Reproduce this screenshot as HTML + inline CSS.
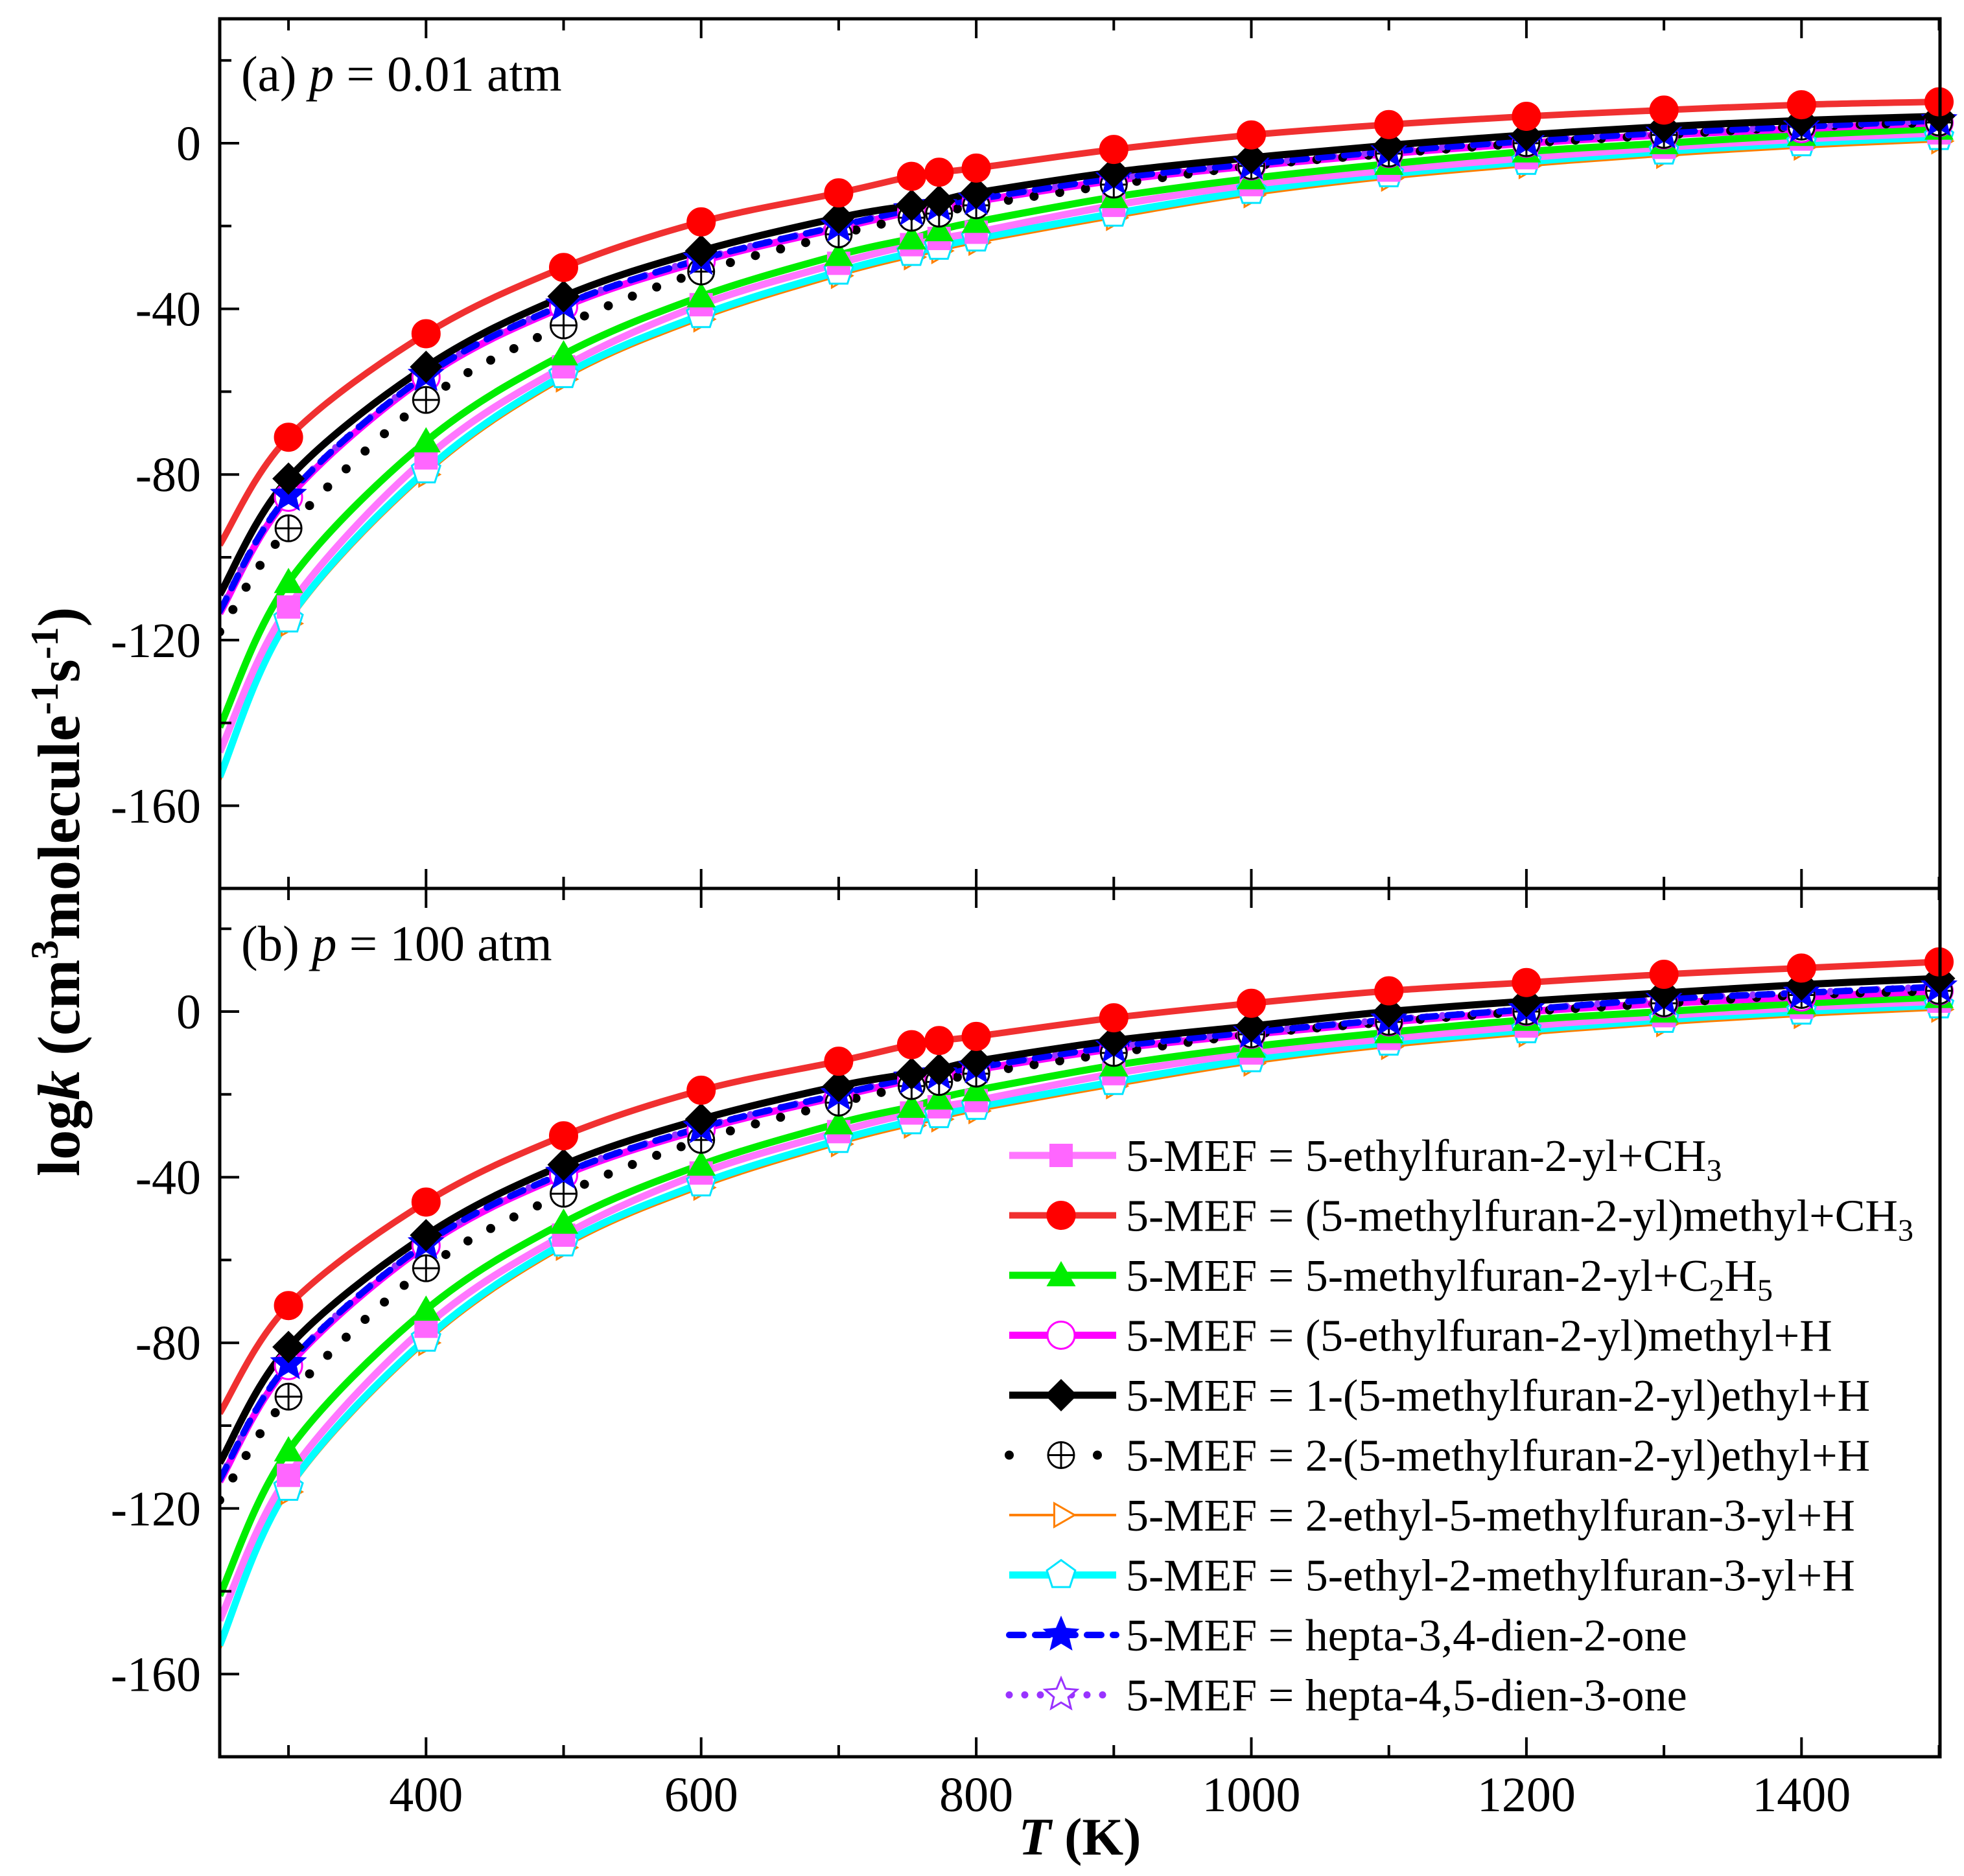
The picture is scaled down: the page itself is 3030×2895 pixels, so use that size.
<!DOCTYPE html>
<html><head><meta charset="utf-8"><style>
html,body{margin:0;padding:0;background:#fff}
svg{display:block}
text{font-family:"Liberation Serif",serif}
</style></head><body>
<svg id="chart" width="3030" height="2895" viewBox="0 0 3030 2895" xmlns="http://www.w3.org/2000/svg">
<defs>
<clipPath id="clipA"><rect x="339" y="29" width="2654" height="1342"/></clipPath>
<clipPath id="clipB"><rect x="339" y="1371" width="2654" height="1340"/></clipPath>
</defs>
<g id="plots"></g>
<g id="axes"></g>
<text x="372" y="140" font-size="77">(a) <tspan font-style="italic">p</tspan> = 0.01 atm</text>
<text x="372" y="1482" font-size="77">(b) <tspan font-style="italic">p</tspan> = 100 atm</text>
<text transform="translate(122,1376) rotate(-90)" text-anchor="middle" font-size="92" font-weight="bold">log<tspan font-style="italic">k</tspan> (cm<tspan baseline-shift="super" font-size="60">3</tspan>molecule<tspan baseline-shift="super" font-size="60">-1</tspan>s<tspan baseline-shift="super" font-size="60">-1</tspan>)</text>
<text x="1666" y="2862" text-anchor="middle" font-size="82" font-weight="bold"><tspan font-style="italic">T</tspan> (K)</text>
<g id="legend"></g>
</svg>
<script>
const temps=[250,300,400,500,600,700,753,773,800,900,1000,1100,1200,1300,1400,1500];
const xTicks=[400,600,800,1000,1200,1400];
const yTicks=[0,-40,-80,-120,-160];
// panel (a) p = 0.01 atm
const aPink  =[-147,-112,-76,-54,-39,-29,-24.5,-23,-21.5,-15,-10,-6.5,-3.5,-1,1,2.5];
const aRed   =[-97,-71,-46,-30,-19,-12,-8,-7,-6,-1.5,2,4.5,6.5,8,9.3,10];
const aGreen =[-141,-106,-72,-51,-37,-27,-23,-21,-19,-13,-8.5,-5,-2,0,2,3.5];
const aMag   =[-113.5,-85.5,-56.5,-39.5,-28.5,-20.5,-16.5,-15.5,-14,-9,-5.5,-2.5,0,2,3.5,5];
const aBlack =[-109,-81,-54,-37,-26,-18,-15,-14,-12,-7,-3.5,-0.5,2,4,5.5,6.5];
const aDot   =[-118,-93,-62,-44,-31,-22,-18,-17,-15,-10,-5.5,-2.5,0,2,4,5];
const aOrange=[-154,-116,-80,-57,-42.5,-32,-27.5,-26,-24,-18,-12.5,-8.5,-5.5,-3,-1,0.5];
const aCyan  =[-153,-115,-79,-56,-41.5,-31,-26.5,-25,-23,-17,-11.5,-7.5,-4.5,-2,0,1.5];
const aBlue  =[-113,-85,-56,-39,-28,-20,-16,-15,-13.5,-8.5,-5,-2,0.5,2.5,4,5.5];
const aPurple=[-113,-85,-56,-39,-28,-20,-16,-15,-13.5,-8.5,-5,-2,0.5,2.5,4,5.5];
// panel (b) p = 100 atm
const bPink  =[-147,-112,-76,-54,-39,-29,-24.5,-23,-21.5,-15,-10,-6.5,-3.5,-1,1,2.5];
const bRed   =[-97,-71,-46,-30,-19,-12,-8,-7,-6,-1.5,2,5,7,9,10.5,12];
const bGreen =[-141,-106,-72,-51,-37,-27,-23,-21,-19,-13,-8.5,-5,-2,0,2,3.5];
const bMag   =[-113.5,-85.5,-56.5,-39.5,-28.5,-20.5,-16.5,-15.5,-14,-9,-5.5,-2.5,0,2,3.5,5];
const bBlack =[-109,-81,-54,-37,-26,-18,-15,-14,-12,-7,-3.5,0,2.5,4.5,6.5,8];
const bDot   =[-118,-93,-62,-44,-31,-22,-18,-17,-15,-10,-5.5,-2.5,0,2,4,5];
const bOrange=[-154,-116,-80,-57,-42.5,-32,-27.5,-26,-24,-18,-12.5,-8.5,-5.5,-3,-1,0.5];
const bCyan  =[-153,-115,-79,-56,-41.5,-31,-26.5,-25,-23,-17,-11.5,-7.5,-4.5,-2,0,1.5];
const bBlue  =[-113,-85,-56,-39,-28,-20,-16,-15,-13.5,-8.5,-5,-2,0.5,3,4.5,6];
const bPurple=[-113,-85,-56,-39,-28,-20,-16,-15,-13.5,-8.5,-5,-2,0.5,3,4.5,6];

const NS="http://www.w3.org/2000/svg";
const X0=339,XS=2.122,YS=6.39;
function xPos(t){return X0+(t-250)*XS;}
function yPos(v,zero){return zero-v*YS;}
function mk(tag,attrs,parent){const e=document.createElementNS(NS,tag);for(const k in attrs)e.setAttribute(k,attrs[k]);parent.appendChild(e);return e;}

const styles={
 pink:{c:'#ff77ff',w:11,dash:null,m:'square',fill:'#ff66ff',stroke:'#ff66ff'},
 red:{c:'#f03030',w:10,dash:null,m:'circle',fill:'#ff0000',stroke:'#ff0000'},
 green:{c:'#00ee00',w:11,dash:null,m:'triangle',fill:'#00ee00',stroke:'#00ee00'},
 mag:{c:'#ff00ff',w:11,dash:null,m:'circle',fill:'#ffffff',stroke:'#ff00ff'},
 black:{c:'#000000',w:11,dash:null,m:'diamond',fill:'#000000',stroke:'#000000'},
 dot:{c:'#000000',w:14,dash:'0 40',m:'oplus',fill:'#ffffff',stroke:'#000000'},
 orange:{c:'#ff8000',w:4,dash:null,m:'rtri',fill:'#ffffff',stroke:'#ff8000'},
 cyan:{c:'#00ffff',w:11,dash:null,m:'pentagon',fill:'#ffffff',stroke:'#00e5ff'},
 blue:{c:'#0000ff',w:10,dash:'22 18',m:'star',fill:'#0000ff',stroke:'#0000ff'},
 purple:{c:'#9933ff',w:11,dash:'0 24',m:'star',fill:'#ffffff',stroke:'#9933ff'}
};

function pathD(pts){
 let d='M'+pts[0][0]+','+pts[0][1];
 for(let i=0;i<pts.length-1;i++){
  const p0=pts[Math.max(0,i-1)],p1=pts[i],p2=pts[i+1],p3=pts[Math.min(pts.length-1,i+2)];
  const c1x=p1[0]+(p2[0]-p0[0])/6,c1y=p1[1]+(p2[1]-p0[1])/6;
  const c2x=p2[0]-(p3[0]-p1[0])/6,c2y=p2[1]-(p3[1]-p1[1])/6;
  d+=' C'+c1x.toFixed(1)+','+c1y.toFixed(1)+' '+c2x.toFixed(1)+','+c2y.toFixed(1)+' '+p2[0].toFixed(1)+','+p2[1].toFixed(1);
 }
 return d;
}
function starPts(cx,cy,R,r){let p=[];for(let i=0;i<10;i++){const a=-Math.PI/2+i*Math.PI/5;const rr=i%2?r:R;p.push((cx+rr*Math.cos(a)).toFixed(1)+','+(cy+rr*Math.sin(a)).toFixed(1));}return p.join(' ');}
function polyPts(cx,cy,R,n,rot){let p=[];for(let i=0;i<n;i++){const a=rot+i*2*Math.PI/n;p.push((cx+R*Math.cos(a)).toFixed(1)+','+(cy+R*Math.sin(a)).toFixed(1));}return p.join(' ');}
function marker(g,type,x,y,s,name){
 const S=21;let e;
 if(type==='square')e=mk('rect',{x:x-S+3,y:y-S+3,width:2*S-6,height:2*S-6,fill:s.fill},g);
 else if(type==='circle')e=mk('circle',{cx:x,cy:y,r:S,fill:s.fill,stroke:s.stroke,'stroke-width':3},g);
 else if(type==='triangle')e=mk('polygon',{points:polyPts(x,y+4,S+5,3,-Math.PI/2),fill:s.fill},g);
 else if(type==='diamond')e=mk('polygon',{points:polyPts(x,y,S+4,4,-Math.PI/2),fill:s.fill},g);
 else if(type==='rtri')e=mk('polygon',{points:polyPts(x,y,S,3,0),fill:s.fill,stroke:s.stroke,'stroke-width':3},g);
 else if(type==='pentagon')e=mk('polygon',{points:polyPts(x,y,S+2,5,-Math.PI/2),fill:s.fill,stroke:s.stroke,'stroke-width':3},g);
 else if(type==='star')e=mk('polygon',{points:starPts(x,y,S+5,(S+5)*0.45),fill:s.fill,stroke:s.stroke,'stroke-width':3},g);
 else if(type==='oplus'){
  e=mk('g',{},g);
  mk('circle',{cx:x,cy:y,r:S-1,fill:'#fff',stroke:'#000','stroke-width':3},e);
  mk('path',{d:'M'+(x-S+1)+','+y+' H'+(x+S-1)+' M'+x+','+(y-S+1)+' V'+(y+S-1),stroke:'#000','stroke-width':3},e);
 }
 
 
}

const plots=document.getElementById('plots');
const order=['orange','cyan','pink','green','mag','dot','purple','blue','black','red'];
function drawPanel(id,zero,clip,data){
 const g=mk('g',{},plots);
 
 
 const lg=mk('g',{'clip-path':'url(#'+clip+')'},g);
 order.forEach(k=>{
  const s=styles[k],vals=data[k];
  const pts=temps.map((t,i)=>[xPos(t),yPos(vals[i],zero)]);
  const p=mk('path',{d:pathD(pts),fill:'none',stroke:s.c,'stroke-width':s.w,'stroke-linecap':s.dash?'round':'butt','stroke-linejoin':'round'},lg);
  if(s.dash)p.setAttribute('stroke-dasharray',s.dash);
  
  
 });
 order.forEach(k=>{
  const s=styles[k],vals=data[k];
  const mg=mk('g',{},g);
  
  
  temps.forEach((t,i)=>{if(i===0)return;marker(mg,s.m,xPos(t),yPos(vals[i],zero),s,'point-'+k+'-'+t);});
 });
}
drawPanel('a',221,'clipA',{pink:aPink,red:aRed,green:aGreen,mag:aMag,black:aBlack,dot:aDot,orange:aOrange,cyan:aCyan,blue:aBlue,purple:aPurple});
drawPanel('b',1561,'clipB',{pink:bPink,red:bRed,green:bGreen,mag:bMag,black:bBlack,dot:bDot,orange:bOrange,cyan:bCyan,blue:bBlue,purple:bPurple});

const ax=document.getElementById('axes');
function drawAxes(id,top,bottom,zero,labels){
 const g=mk('g',{},ax);
 
 
 const f=mk('rect',{x:339,y:top,width:2654,height:bottom-top,fill:'none',stroke:'#000','stroke-width':5},g);
 
 
 for(let t=300;t<=1500;t+=100){
  const x=xPos(t),L=(t%200===0)?30:18;
  mk('line',{x1:x,y1:top,x2:x,y2:top+L,stroke:'#000','stroke-width':4},g);
  mk('line',{x1:x,y1:bottom,x2:x,y2:bottom-L,stroke:'#000','stroke-width':4},g);
 }
 for(let v=-180;v<=20;v+=20){
  const y=yPos(v,zero),L=(v%40===0)?30:18;
  mk('line',{x1:339,y1:y,x2:339+L,y2:y,stroke:'#000','stroke-width':4},g);
 }
 yTicks.forEach(v=>{
  const tx=mk('text',{x:310,y:yPos(v,zero)+26,'text-anchor':'end','font-size':76},g);
  tx.textContent=v;
  
  
 });
 if(labels){
  xTicks.forEach(t=>{
   const tx=mk('text',{x:xPos(t),y:2795,'text-anchor':'middle','font-size':76},g);
   tx.textContent=t;
   
   
  });
 }
}
drawAxes('a',29,1371,221,false);
drawAxes('b',1371,2711,1561,true);

const legendItems=[
 ['pink','5-MEF = 5-ethylfuran-2-yl+CH',['3','']],
 ['red','5-MEF = (5-methylfuran-2-yl)methyl+CH',['3','']],
 ['green','5-MEF = 5-methylfuran-2-yl+C',['2','H','5']],
 ['mag','5-MEF = (5-ethylfuran-2-yl)methyl+H',null],
 ['black','5-MEF = 1-(5-methylfuran-2-yl)ethyl+H',null],
 ['dot','5-MEF = 2-(5-methylfuran-2-yl)ethyl+H',null],
 ['orange','5-MEF = 2-ethyl-5-methylfuran-3-yl+H',null],
 ['cyan','5-MEF = 5-ethyl-2-methylfuran-3-yl+H',null],
 ['blue','5-MEF = hepta-3,4-dien-2-one',null],
 ['purple','5-MEF = hepta-4,5-dien-3-one',null]
];
const lgEl=document.getElementById('legend');
legendItems.forEach((it,i)=>{
 const y=1783+i*92.5,s=styles[it[0]];
 const g=mk('g',{},lgEl);
 
 
 const ln=mk('line',{x1:1557,y1:y,x2:1722,y2:y,stroke:s.c,'stroke-width':s.w,'stroke-linecap':s.dash?'round':'butt'},g);
 if(s.dash)ln.setAttribute('stroke-dasharray',s.dash==='0 40'?'0 68':s.dash);
 marker(g,s.m,1637,y,s,'legend-marker-'+it[0]);
 const tx=mk('text',{x:1737,y:y+24,'font-size':70},g);
 tx.appendChild(document.createTextNode(it[1]));
 if(it[2]){
  const sub1=mk('tspan',{'font-size':48,dy:15},tx);sub1.textContent=it[2][0];
  if(it[2][1]){const h=mk('tspan',{'font-size':70,dy:-15},tx);h.textContent=it[2][1];
   const sub2=mk('tspan',{'font-size':48,dy:15},tx);sub2.textContent=it[2][2];}
 }
});
</script>
</body></html>
